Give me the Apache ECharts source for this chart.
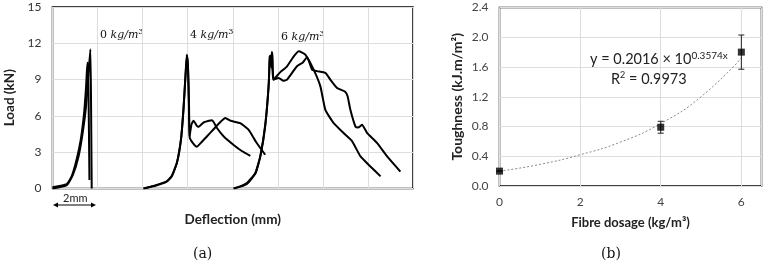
<!DOCTYPE html>
<html>
<head>
<meta charset="utf-8">
<script src="https://cdn.jsdelivr.net/npm/echarts@6/dist/echarts.min.js"></script>
<style>
  html, body { margin: 0; padding: 0; background: #fff; }
  #final { width: 767px; height: 266px; }
</style>
</head>
<body>
<div id="final"></div>
<script>
// (a) load-deflection curves, [deflection mm, load kN]
var curve0a = [[0,0.1],[0.63,0.36],[0.85,1.0],[1.07,2.4],[1.25,4.0],[1.4,6.2],[1.49,8.4],[1.55,10.4],[1.58,10.3],[1.61,6.0],[1.64,0.7]];
var curve0b = [[0,0],[0.63,0.28],[0.9,1.1],[1.15,2.6],[1.34,4.6],[1.49,6.8],[1.59,9.3],[1.68,11.5],[1.71,7.3],[1.74,0]];
var curve4a = [[4.04,0],[4.63,0.3],[5.07,0.58],[5.29,1.0],[5.52,2.1],[5.7,4.0],[5.81,6.5],[5.9,9.3],[5.96,11.05],[6.01,10.1],[6.05,7.3],[6.08,4.3],
  [6.17,5.3],[6.26,5.6],[6.4,5.2],[6.48,5.1],[6.7,5.45],[6.95,5.6],[7.07,5.65],[7.15,5.5],[7.3,5.0],[7.6,4.3],[8.04,3.6],[8.4,3.1],[8.78,2.7]];
var curve4b = [[4.04,0],[4.6,0.25],[5.05,0.55],[5.3,1.05],[5.53,2.2],[5.71,4.2],[5.82,6.7],[5.91,9.5],[5.97,11.0],[6.02,9.8],[6.06,6.8],[6.09,4.2],
  [6.25,3.7],[6.4,3.45],[6.6,3.8],[6.85,4.3],[7.15,4.9],[7.45,5.5],[7.67,5.83],[7.9,5.6],[8.33,5.4],[8.7,4.86],[9.05,3.8],[9.44,2.79]];
var curve6a = [[8.04,0],[8.33,0.17],[8.63,0.45],[9.0,1.27],[9.22,2.65],[9.44,5.13],[9.59,8.44],[9.64,10.6],[9.67,10.9],[9.7,10.2],[9.74,11.3],[9.79,9.0],
  [10.04,9.14],[10.25,8.9],[10.41,9.0],[10.85,10.1],[11.1,10.4],[11.3,10.85],[11.52,9.83],[11.74,9.7],[12.11,9.55],[12.33,9.0],[12.63,8.3],[12.99,8.0],
  [13.1,7.6],[13.22,6.5],[13.45,5.1],[13.58,5.05],[13.74,5.27],[13.96,4.6],[14.41,3.75],[14.85,2.65],[15.44,1.4]];
var curve6b = [[8.04,0],[8.33,0.15],[8.65,0.42],[9.02,1.3],[9.24,2.8],[9.45,5.4],[9.6,8.7],[9.64,10.9],[9.68,11.0],[9.72,10.0],[9.76,11.2],[9.81,9.0],
  [10.1,9.6],[10.41,10.1],[10.7,10.9],[10.93,11.34],[11.22,11.07],[11.59,9.83],[11.89,8.44],[12.11,6.5],[12.48,5.4],[12.92,4.58],[13.3,3.9],
  [13.67,2.65],[14.11,1.82],[14.56,1.0]];

// (b) toughness vs fibre dosage
var dosage = [0, 4, 6];
var toughness = [0.2, 0.79, 1.8];
var errLow = [0.2, 0.71, 1.57];
var errHigh = [0.2, 0.87, 2.03];
var trendX = [0, 1, 2, 3, 4, 5, 6];
var trendY = [0.20, 0.29, 0.42, 0.59, 0.84, 1.20, 1.72];

var loadTicks = [0, 3, 6, 9, 12, 15];
var toughTicks = ['0.0', '0.4', '0.8', '1.2', '1.6', '2.0', '2.4'];

var chartDom = document.getElementById('final');
var myChart = echarts.init(chartDom, null, {renderer: 'canvas'});

var font = 'Lato, "Liberation Sans", Arial, sans-serif';
var serif = '"DejaVu Serif", "Liberation Serif", serif';
var lineCurve = function (d) {
  return {
    type: 'line', xAxisIndex: 0, yAxisIndex: 0, data: d, showSymbol: false,
    symbol: 'none', lineStyle: {color: '#000', width: 2}, smooth: 0.15, animation: false
  };
};
var kgLabel = function (n, left, top) {
  return {type: 'text', left: left, top: top, style: {text: '{n|' + n + ' }{i|kg/m}{s|3}', rich: {
    n: {fontFamily: serif, fontSize: 11, fill: '#111'},
    i: {fontFamily: serif, fontStyle: 'italic', fontSize: 11, fill: '#111'},
    s: {fontFamily: serif, fontSize: 8, fill: '#111', verticalAlign: 'top', padding: [0, 0, 6, 0]}}}};
};

var option = {
  animation: false,
  textStyle: {fontFamily: font},
  grid: [
    {left: 52.5, right: 354, top: 7, bottom: 77.5, show: true, borderColor: '#000', borderWidth: 1.5},
    {left: 499.5, right: 5.5, top: 7.5, bottom: 80, show: true, borderColor: '#000', borderWidth: 1.5}
  ],
  xAxis: [
    {
      gridIndex: 0, type: 'value', min: 0, max: 16, interval: 2,
      axisLine: {show: false}, axisTick: {show: false}, axisLabel: {show: false},
      splitLine: {lineStyle: {color: '#dedede', width: 1}},
      name: 'Deflection (mm)', nameLocation: 'middle', nameGap: 24,
      nameTextStyle: {fontSize: 13.5, fontWeight: 'bold', color: '#222', fontFamily: font}
    },
    {
      gridIndex: 1, type: 'value', min: 0, max: 6.5, interval: 2,
      axisLine: {show: false}, axisTick: {show: false},
      axisLabel: {color: '#444', fontSize: 12, margin: 10, showMaxLabel: false},
      splitLine: {lineStyle: {color: '#dedede', width: 1}},
      name: 'Fibre dosage (kg/m³)', nameLocation: 'middle', nameGap: 30,
      nameTextStyle: {fontSize: 13, fontWeight: 'bold', color: '#222', fontFamily: font}
    }
  ],
  yAxis: [
    {
      gridIndex: 0, type: 'value', min: loadTicks[0], max: loadTicks[loadTicks.length - 1], interval: 3,
      axisLine: {show: false}, axisTick: {show: false},
      axisLabel: {color: '#333', fontSize: 12, margin: 11},
      splitLine: {lineStyle: {color: '#dedede', width: 1}},
      name: 'Load (kN)', nameLocation: 'middle', nameGap: 36,
      nameTextStyle: {fontSize: 13.5, fontWeight: 'bold', color: '#222', fontFamily: font}
    },
    {
      gridIndex: 1, type: 'value', min: 0, max: 2.4, interval: 0.4,
      axisLine: {show: false}, axisTick: {show: false},
      axisLabel: {color: '#444', fontSize: 12, margin: 11, formatter: function (v) { return toughTicks[Math.round(v / 0.4)]; }},
      splitLine: {lineStyle: {color: '#dedede', width: 1}},
      name: 'Toughness (kJ.m/m²)', nameLocation: 'middle', nameGap: 35,
      nameTextStyle: {fontSize: 14, fontWeight: 'bold', color: '#222', fontFamily: font}
    }
  ],
  graphic: [
    kgLabel('0', 100, 28), kgLabel('4', 190, 28), kgLabel('6', 281, 30),
    // 2mm scale arrow
    {type: 'line', shape: {x1: 55, y1: 205, x2: 94, y2: 205}, style: {stroke: '#000', lineWidth: 1}},
    {type: 'polygon', shape: {points: [[53, 205], [58, 202.5], [58, 207.5]]}, style: {fill: '#000'}},
    {type: 'polygon', shape: {points: [[96, 205], [91, 202.5], [91, 207.5]]}, style: {fill: '#000'}},
    {type: 'text', left: 63, top: 193, style: {text: '2mm', fontSize: 11, fontFamily: font, fill: '#222'}},
    // trend equation
    {type: 'text', left: 590, top: 51, style: {text: '{a|y = 0.2016 × 10}{b|0.3574x}', rich: {
      a: {fontSize: 14.5, fontFamily: font, fill: '#222'},
      b: {fontSize: 10, fontFamily: font, fill: '#222', verticalAlign: 'top', padding: [0, 0, 7, 0]}}}},
    {type: 'text', left: 611, top: 71, style: {text: '{a|R}{b|2}{a| = 0.9973}', rich: {
      a: {fontSize: 14.5, fontFamily: font, fill: '#222'},
      b: {fontSize: 9, fontFamily: font, fill: '#222', verticalAlign: 'top', padding: [0, 0, 7, 0]}}}},
    {type: 'text', left: 193, top: 247, style: {text: '(a)', fontSize: 14, fontFamily: serif, fill: '#111'}},
    {type: 'text', left: 601, top: 247, style: {text: '(b)', fontSize: 14, fontFamily: serif, fill: '#111'}}
  ],
  series: [
    lineCurve(curve0a), lineCurve(curve0b),
    lineCurve(curve4a), lineCurve(curve4b),
    lineCurve(curve6a), lineCurve(curve6b),
    {
      type: 'line', xAxisIndex: 1, yAxisIndex: 1,
      data: trendX.map(function (x, i) { return [x, trendY[i]]; }),
      smooth: true, symbol: 'none', lineStyle: {color: '#888', width: 1, type: [2, 2]}, z: 2
    },
    {
      type: 'custom', xAxisIndex: 1, yAxisIndex: 1,
      data: dosage.map(function (x, i) { return [x, errLow[i], errHigh[i]]; }),
      renderItem: function (params, api) {
        var lo = api.coord([api.value(0), api.value(1)]);
        var hi = api.coord([api.value(0), api.value(2)]);
        var w = 3;
        return {type: 'group', children: [
          {type: 'line', shape: {x1: lo[0], y1: lo[1], x2: hi[0], y2: hi[1]}, style: {stroke: '#222', lineWidth: 1}},
          {type: 'line', shape: {x1: lo[0] - w, y1: lo[1], x2: lo[0] + w, y2: lo[1]}, style: {stroke: '#222', lineWidth: 1}},
          {type: 'line', shape: {x1: hi[0] - w, y1: hi[1], x2: hi[0] + w, y2: hi[1]}, style: {stroke: '#222', lineWidth: 1}}
        ]};
      },
      z: 3
    },
    {
      type: 'scatter', xAxisIndex: 1, yAxisIndex: 1,
      data: dosage.map(function (x, i) { return [x, toughness[i]]; }),
      symbol: 'rect', symbolSize: 7, itemStyle: {color: '#000'}, z: 4, clip: false
    }
  ]
};
myChart.setOption(option);
</script>
</body>
</html>
